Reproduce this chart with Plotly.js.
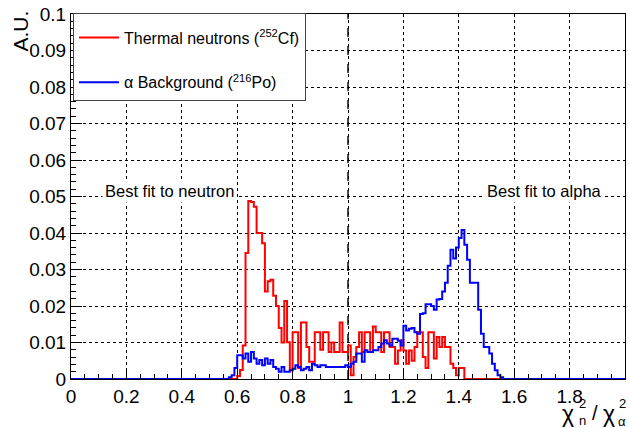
<!DOCTYPE html>
<html>
<head>
<meta charset="utf-8">
<script src="https://cdn.plot.ly/plotly-3.0.1.min.js"></script>
<style>
  html, body { margin: 0; padding: 0; background: #fff; }
  #chart { width: 629px; height: 428px; }
</style>
</head>
<body>
<div id="chart"></div>
<script>
// Histogram binning of the chi2 ratio (200 bins on [0, 2])
const xMin = 0;
const xMax = 2;
const nBins = 200;

// Thermal neutrons (252Cf): normalised bin contents starting at bin 58
const neutronFirstBin = 58;
const neutronCounts = [
  0, 0, 0.0008, 0.0025, 0.0092, 0.0345, 0.0488, 0.0485, 0.0472, 0.0400,
  0.0400, 0.0372, 0.0240, 0.0268, 0.0272, 0.0228, 0.0200, 0.0140, 0.0100, 0.0214,
  0.0101, 0.0025, 0.0128, 0.0128, 0.0030, 0.0155, 0.0155, 0.0088, 0.0047, 0.0047,
  0.0128, 0.0128, 0.0080, 0.0128, 0.0128, 0.0074, 0.0100, 0.0074, 0.0074, 0.0155,
  0.0074, 0.0074, 0.0092, 0.0010, 0.0060, 0.0088, 0.0128, 0.0074, 0.0128, 0.0128,
  0.0074, 0.0144, 0.0128, 0.0128, 0.0074, 0.0128, 0.0128, 0.0088, 0.0088, 0.0042,
  0.0078, 0.0106, 0.0078, 0.0042, 0.0078, 0.0050, 0.0088, 0.0128, 0.0128, 0.0060,
  0.0030, 0.0128, 0.0128, 0.0056, 0.0115, 0.0088, 0.0115, 0.0088, 0.0088, 0.0042,
  0.0030, 0.0010, 0.0030, 0.0030, 0
];

// Alpha background (216Po): normalised bin contents starting at bin 56
const alphaFirstBin = 56;
const alphaCounts = [
  0, 0.0005, 0.0010, 0.0030, 0.0065, 0.0065, 0.0056, 0.0070, 0.0047, 0.0074,
  0.0056, 0.0042, 0.0052, 0.0038, 0.0056, 0.0042, 0.0052, 0.0033, 0.0028, 0.0020,
  0.0033, 0.0020, 0.0020, 0.0024, 0.0028, 0.0038, 0.0033, 0.0024, 0.0028, 0.0033,
  0.0024, 0.0042, 0.0038, 0.0033, 0.0038, 0.0038, 0.0033, 0.0033, 0.0033, 0.0033,
  0.0033, 0.0033, 0.0033, 0.0038, 0.0033, 0.0042, 0.0047, 0.0070, 0.0070, 0.0047,
  0.0079, 0.0074, 0.0074, 0.0079, 0.0079, 0.0088, 0.0097, 0.0106, 0.0097, 0.0092,
  0.0110, 0.0110, 0.0105, 0.0092, 0.0146, 0.0133, 0.0138, 0.0140, 0.0128, 0.0124,
  0.0178, 0.0180, 0.0205, 0.0205, 0.0200, 0.0190, 0.0218, 0.0219, 0.0240, 0.0264,
  0.0310, 0.0354, 0.0330, 0.0360, 0.0386, 0.0408, 0.0368, 0.0327, 0.0264, 0.0264,
  0.0264, 0.0190, 0.0124, 0.0088, 0.0088, 0.0070, 0.0042, 0.0024, 0.0010, 0.0005,
  0
];

// Axis tick labels
const xTickVals = [0, 0.2, 0.4, 0.6, 0.8, 1, 1.2, 1.4, 1.6, 1.8, 2];
const xTickText = ['0', '0.2', '0.4', '0.6', '0.8', '1', '1.2', '1.4', '1.6', '1.8', '2'];
const yTickVals = [0, 0.01, 0.02, 0.03, 0.04, 0.05, 0.06, 0.07, 0.08, 0.09, 0.1];
const yTickText = ['0', '0.01', '0.02', '0.03', '0.04', '0.05', '0.06', '0.07', '0.08', '0.09', '0.1'];

// Turn a partial list of bin contents into a step outline over the whole range
function stepOutline(firstBin, counts) {
  const width = (xMax - xMin) / nBins;
  const xs = [], ys = [];
  for (let i = 0; i < nBins; i++) {
    const k = i - firstBin;
    const v = (k >= 0 && k < counts.length) ? counts[k] : 0;
    xs.push(xMin + i * width);
    ys.push(v);
  }
  xs.push(xMax);
  ys.push(ys[ys.length - 1]);
  return { x: xs, y: ys };
}

const neutron = stepOutline(neutronFirstBin, neutronCounts);
const alpha = stepOutline(alphaFirstBin, alphaCounts);

const FONT = 'Liberation Sans, Arial, Helvetica, sans-serif';

const traces = [
  {
    x: neutron.x, y: neutron.y, type: 'scatter', mode: 'lines',
    line: { shape: 'hv', color: '#ff0000', width: 2 },
    name: 'Thermal neutrons (<sup>252</sup>Cf)', legendgroup: 'n',
    hoverinfo: 'skip'
  },
  {
    x: alpha.x, y: alpha.y, type: 'scatter', mode: 'lines',
    line: { shape: 'hv', color: '#0000ff', width: 2 },
    name: '\u03b1 Background (<sup>216</sup>Po)', legendgroup: 'a',
    hoverinfo: 'skip'
  }
];

// Pixel helpers for the plot frame (l=71, r=625, t=14, b=379)
const L = 71, R = 625, T = 14, B = 379;
const px = v => (v - L) / (R - L);
const py = v => (B - v) / (B - T);

const annotations = [
  { text: 'Best fit to neutron', x: 0.357, y: 0.0515, xref: 'x', yref: 'y',
    showarrow: false, bgcolor: '#fff', borderpad: 2,
    font: { family: FONT, size: 16.5, color: '#000' } },
  { text: 'Best fit to alpha', x: 1.71, y: 0.0515, xref: 'x', yref: 'y',
    showarrow: false, bgcolor: '#fff', borderpad: 2,
    font: { family: FONT, size: 16.5, color: '#000' } },
  // y axis title, right-aligned against the top of the axis
  { text: 'A.U.', textangle: -90, xref: 'paper', yref: 'paper',
    x: px(20), y: py(9), xanchor: 'center', yanchor: 'top',
    showarrow: false, font: { family: FONT, size: 21, color: '#000' } },
  // x axis title: chi^2_n / chi^2_alpha with stacked super/subscripts
  { text: '\u03c7', xref: 'paper', yref: 'paper', x: px(568), y: py(414),
    xanchor: 'center', yanchor: 'middle', showarrow: false,
    font: { family: FONT, size: 23, color: '#000' } },
  { text: '2', xref: 'paper', yref: 'paper', x: px(582), y: py(403),
    xanchor: 'center', yanchor: 'middle', showarrow: false,
    font: { family: FONT, size: 13, color: '#000' } },
  { text: 'n', xref: 'paper', yref: 'paper', x: px(582), y: py(420),
    xanchor: 'center', yanchor: 'middle', showarrow: false,
    font: { family: FONT, size: 13, color: '#000' } },
  { text: '/', xref: 'paper', yref: 'paper', x: px(595), y: py(413),
    xanchor: 'center', yanchor: 'middle', showarrow: false,
    font: { family: FONT, size: 20, color: '#000' } },
  { text: '\u03c7', xref: 'paper', yref: 'paper', x: px(609), y: py(414),
    xanchor: 'center', yanchor: 'middle', showarrow: false,
    font: { family: FONT, size: 23, color: '#000' } },
  { text: '2', xref: 'paper', yref: 'paper', x: px(622), y: py(403),
    xanchor: 'center', yanchor: 'middle', showarrow: false,
    font: { family: FONT, size: 13, color: '#000' } },
  { text: '\u03b1', xref: 'paper', yref: 'paper', x: px(622), y: py(421),
    xanchor: 'center', yanchor: 'middle', showarrow: false,
    font: { family: FONT, size: 13, color: '#000' } }
];

const layout = {
  width: 629, height: 428,
  margin: { l: L, r: 629 - R, t: T, b: 428 - B, pad: 0 },
  paper_bgcolor: '#fff', plot_bgcolor: '#fff',
  font: { family: FONT, size: 19, color: '#000' },
  showlegend: true,
  legend: {
    x: px(73), y: py(13), xanchor: 'left', yanchor: 'top',
    bgcolor: '#fff', bordercolor: '#444', borderwidth: 1,
    font: { family: FONT, size: 16, color: '#000' },
    title: { text: '\u00a0', font: { size: 5 } },
    tracegroupgap: 21, traceorder: 'grouped', itemwidth: 40
  },
  xaxis: {
    range: [xMin, xMax], tickmode: 'array', tickvals: xTickVals, ticktext: xTickText,
    ticks: 'inside', ticklen: 11, tickwidth: 1, tickcolor: '#000',
    showline: true, linecolor: '#000', linewidth: 1, mirror: true,
    showgrid: true, gridcolor: '#000', griddash: 'dot', gridwidth: 1,
    zeroline: false, tickfont: { family: FONT, size: 19 },
    minor: { ticks: 'inside', ticklen: 5, dtick: 0.05, tick0: 0, tickcolor: '#000', showgrid: false }
  },
  yaxis: {
    range: [0, 0.1], tickmode: 'array', tickvals: yTickVals, ticktext: yTickText,
    ticks: 'inside', ticklen: 11, tickwidth: 1, tickcolor: '#000',
    showline: true, linecolor: '#000', linewidth: 1, mirror: true,
    showgrid: true, gridcolor: '#000', griddash: 'dot', gridwidth: 1,
    zeroline: false, tickfont: { family: FONT, size: 19 },
    minor: { ticks: 'inside', ticklen: 5, dtick: 0.002, tick0: 0, tickcolor: '#000', showgrid: false }
  },
  shapes: [
    // Decision boundary at chi2 ratio = 1
    { type: 'line', xref: 'x', yref: 'paper', x0: 1, x1: 1, y0: 0, y1: 1,
      line: { color: '#111', width: 1.5, dash: 'dash' }, layer: 'below' }
  ],
  annotations: annotations
};

Plotly.newPlot('chart', traces, layout, { staticPlot: true, displayModeBar: false });
</script>
</body>
</html>
